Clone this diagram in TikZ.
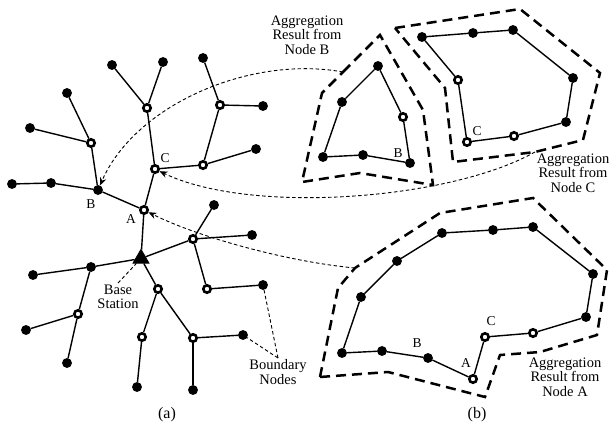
\documentclass[tikz,border=0pt]{standalone}
\usepackage{fontspec}
\setmainfont{Liberation Serif}
\usetikzlibrary{shapes.geometric,arrows.meta}

\begin{document}
\begin{tikzpicture}[x=1pt,y=-1pt,line width=1.4pt,
  full/.style={draw,circle,fill,line width=1pt,inner sep=0pt,minimum size=8.8pt},
  hollow/.style={draw,circle,fill=white,line width=2.6pt,inner sep=0pt,minimum size=7.4pt},
  base/.style={draw,fill,regular polygon,regular polygon sides=3,line width=1pt,inner sep=0pt,minimum size=18pt},
  tag/.style={inner sep=0pt,font=\fontsize{13.5}{14}\selectfont},
  note/.style={align=center,inner sep=1pt,font=\fontsize{14.5}{14.5}\selectfont},
  sublabel/.style={inner sep=0pt,font=\fontsize{16}{16}\selectfont},
  bound/.style={line width=2.5pt,dash pattern=on 10pt off 6pt},
  guide/.style={line width=0.9pt,dash pattern=on 3.5pt off 2.5pt},
  link/.style={guide,-{Stealth[length=8pt,width=6.5pt]}}]
\useasboundingbox (0,0) rectangle (612,428);

% (a) the tree
\node[base](bs) at (141,258.5){};
\node[hollow](a) at (144,210){};
\node[full](b) at (98,190){};
\node[hollow](c) at (155,169){};
\node[hollow](c1) at (147,108){};
\node[full](c1a) at (112,65){};
\node[full](c1b) at (163,62){};
\node[hollow](c2) at (203,165){};
\node[full](c2a) at (256,149){};
\node[hollow](c3) at (220,105){};
\node[full](c3a) at (203,58){};
\node[full](c3b) at (263,106){};
\node[full](b1) at (51,183){};
\node[full](b2) at (12,184){};
\node[hollow](b3) at (91,143){};
\node[full](b3a) at (67,93){};
\node[full](b3b) at (30,128){};
\node[hollow](r1) at (193,239){};
\node[full](r1a) at (214,205){};
\node[full](r1b) at (252,235){};
\node[hollow](r2) at (207,289){};
\node[full](r2a) at (263,285){};
\node[full](l1) at (91,267){};
\node[full](l1a) at (33,275){};
\node[hollow](l2) at (78,314){};
\node[full](l2a) at (26,330){};
\node[full](l2b) at (67,363){};
\node[hollow](d1) at (158,289){};
\node[hollow](d2) at (142,337){};
\node[full](d2a) at (137,387){};
\node[hollow](d3) at (193,338){};
\node[full](d3a) at (243,335){};
\node[full](d3b) at (193,390){};
\draw (bs) -- (a);
\draw (a) -- (c);
\draw (a) -- (b);
\draw (c) -- (c1);
\draw (c1) -- (c1a);
\draw (c1) -- (c1b);
\draw (c) -- (c2);
\draw (c2) -- (c2a);
\draw (c2) -- (c3);
\draw (c3) -- (c3a);
\draw (c3) -- (c3b);
\draw (b) -- (b1) -- (b2);
\draw (b) -- (b3);
\draw (b3) -- (b3a);
\draw (b3) -- (b3b);
\draw (bs) -- (r1);
\draw (r1) -- (r1a);
\draw (r1) -- (r1b);
\draw (r1) -- (r2);
\draw (r2) -- (r2a);
\draw (bs) -- (l1);
\draw (l1) -- (l1a);
\draw (l1) -- (l2);
\draw (l2) -- (l2a);
\draw (l2) -- (l2b);
\draw (bs) -- (d1);
\draw (d1) -- (d2);
\draw (d2) -- (d2a);
\draw (d1) -- (d3);
\draw (d3) -- (d3a);
\draw (d3) -- (d3b);
\node[tag](la) at (131,219){A};
\node[tag](lb) at (91,204){B};
\node[tag](lc) at (165,158){C};
\node[note,anchor=north](bslab) at (118,283){Base\\Station};
\draw[guide] (bslab.north) -- (bs);
\node[note,anchor=north](bnlab) at (278,358){Boundary\\Nodes};
\draw[guide] (bnlab.north) -- (r2a);
\draw[guide] (bnlab.north) -- (d3a);
\node[sublabel](capa) at (167,415){(a)};

% (b) result from node B
\node[full](pb1) at (378,66){};
\node[full](pb2) at (342,102){};
\node[full](pb3) at (323,157){};
\node[full](pb4) at (363,155){};
\node[full](pb5) at (410,163){};
\node[hollow](pb6) at (403,117){};
\draw (pb1) -- (pb2) -- (pb3) -- (pb4) -- (pb5) -- (pb6) -- (pb1);
\node[tag](lpb) at (398,153){B};
\coordinate (bx1) at (343,72);
\draw[bound] (bx1) -- (380,35) -- (423,110) -- (433,185) -- (360,173) -- (302,182) -- (322,93) -- cycle;
\node[note](txtb) at (307,35){Aggregation\\Result from\\Node B};

% result from node C
\node[full](pc1) at (422,37){};
\node[full](pc2) at (473,33){};
\node[full](pc3) at (513,30){};
\node[full](pc4) at (573,78){};
\node[full](pc5) at (566,122){};
\node[hollow](pc6) at (514,136){};
\node[hollow](pc7) at (467,142){};
\node[hollow](pc8) at (458,80){};
\draw (pc1) -- (pc2) -- (pc3) -- (pc4) -- (pc5) -- (pc6) -- (pc7) -- (pc8) -- (pc1);
\node[tag](lpc) at (477,131){C};
\coordinate (cx5) at (535,152);
\draw[bound] (395,28) -- (520,9) -- (600,73) -- (583,140) -- (cx5) -- (453,162) -- (445,88) -- cycle;
\node[note](txtc) at (573,173){Aggregation\\Result from\\Node C};

% result from node A
\node[full](pa1) at (342,353){};
\node[full](pa2) at (382,351){};
\node[full](pa3) at (428,358){};
\node[hollow](pa4) at (473,379){};
\node[hollow](pa5) at (485,337){};
\node[hollow](pa6) at (533,333){};
\node[full](pa7) at (586,317){};
\node[full](pa8) at (593,274){};
\node[full](pa9) at (533,227){};
\node[full](pa10) at (493,230){};
\node[full](pa11) at (442,233){};
\node[full](pa12) at (397,261){};
\node[full](pa13) at (361,297){};
\draw (pa1) -- (pa2) -- (pa3) -- (pa4) -- (pa5) -- (pa6) -- (pa7) -- (pa8) -- (pa9) -- (pa10) -- (pa11) -- (pa12) -- (pa13) -- (pa1);
\node[tag](lpab) at (417,343){B};
\node[tag](lpaa) at (466,363){A};
\node[tag](lpac) at (491,321){C};
\coordinate (ax3) at (355,268);
\draw[bound] (320,377) -- (338,288) -- (ax3) -- (440,213) -- (533,198) -- (607,270) -- (597,335) -- (540,352) -- (500,355) -- (485,397) -- (388,372) -- cycle;
\node[note](txta) at (565,377){Aggregation\\Result from\\Node A};
\node[sublabel](capb) at (477,415){(b)};

% where each result goes
\draw[link] (bx1) .. controls (250,55) and (135,105) .. (b);
\draw[link] (cx5) .. controls (450,200) and (250,215) .. (c);
\draw[link] (ax3) .. controls (290,262) and (200,238) .. (a);
\end{tikzpicture}
\end{document}
